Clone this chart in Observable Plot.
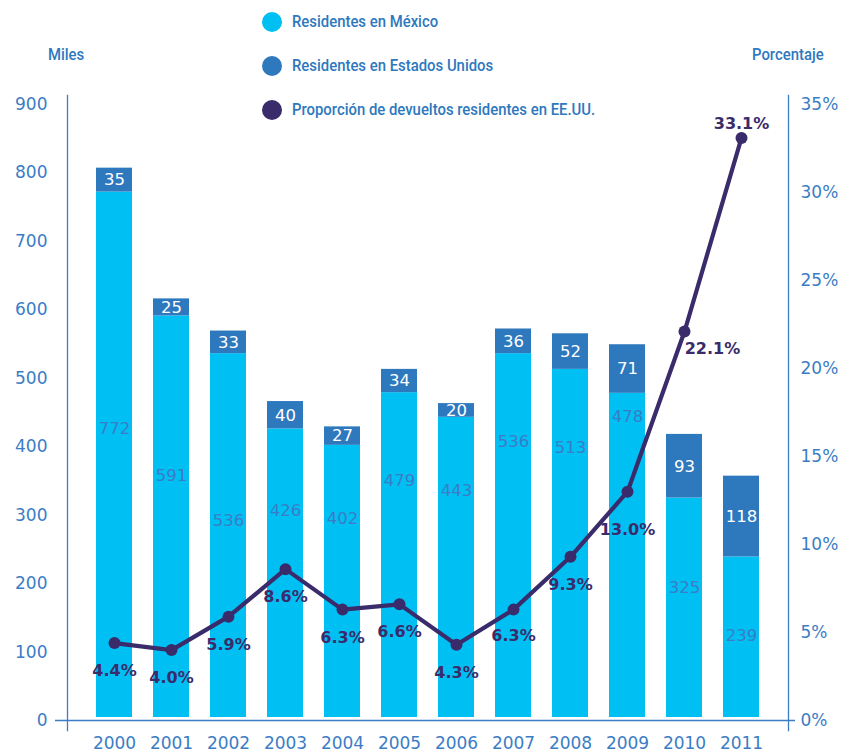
<!DOCTYPE html>
<html>
<head>
<meta charset="utf-8">
<script src="https://cdn.jsdelivr.net/npm/d3@7"></script>
<script src="https://cdn.jsdelivr.net/npm/@observablehq/plot@0.6"></script>
<style>
  html, body { margin: 0; padding: 0; background: #fff; }
  #wrap { position: relative; width: 847px; height: 755px; }
  .lg { position: absolute; font-family: Roboto, "Liberation Sans", sans-serif; font-weight: 500; font-size: 16px; color: #2E78BE; white-space: nowrap; line-height: 1; transform: scaleX(0.93); transform-origin: 0 50%; }
  .sw { position: absolute; width: 20px; height: 20px; border-radius: 50%; }
</style>
</head>
<body>
<div id="wrap"></div>
<script>
// ---- data ----
const years = ["2000","2001","2002","2003","2004","2005","2006","2007","2008","2009","2010","2011"];
const mexico = [772, 591, 536, 426, 402, 479, 443, 536, 513, 478, 325, 239];
const usa    = [35, 25, 33, 40, 27, 34, 20, 36, 52, 71, 93, 118];
const pct    = [4.4, 4.0, 5.9, 8.6, 6.3, 6.6, 4.3, 6.3, 9.3, 13.0, 22.1, 33.1];
const leftTicks = [0, 100, 200, 300, 400, 500, 600, 700, 800, 900];
const pctTicks  = [0, 5, 10, 15, 20, 25, 30, 35];
const legendLabels = ["Residentes en México", "Residentes en Estados Unidos", "Proporción de devueltos residentes en EE.UU."];

// ---- layout (label placement, not data) ----
const mxLabelAt = [427, 358, 292, 307, 295, 351, 336, 408, 399, 444, 194, 124];
const pctDx = [0, 0, 0, 0, 0, 0, 0, 0, 0, 0, 28, 0];
const pctDy = [28, 28, 28, 28, 28, 28, 28, 26, 28, 38, 17, -14];

const C_MX = "#00C0F3", C_US = "#2E78BE", C_LINE = "#3A2B6B", C_AX = "#3B7DC5";
const PMAX = 35, YMAX = 900;
const toY = p => p * YMAX / PMAX;
const idx = years.map((_, i) => i);

const chart = Plot.plot({
  width: 847,
  height: 755,
  marginLeft: 67,
  marginRight: 59,
  marginTop: 104,
  marginBottom: 35,
  style: { fontFamily: "'DejaVu Sans', sans-serif", fontSize: "17px", color: C_AX, background: "transparent" },
  x: { domain: years, type: "band", paddingInner: 0.37, paddingOuter: 0.49, label: null },
  y: { domain: [0, YMAX], label: null },
  marks: [
    Plot.barY(idx, { x: i => years[i], y1: 0, y2: i => mexico[i], fill: C_MX, insetBottom: 3 }),
    Plot.barY(idx, { x: i => years[i], y1: i => mexico[i], y2: i => mexico[i] + usa[i], fill: C_US }),
    Plot.text(idx, { x: i => years[i], y: i => mxLabelAt[i], text: i => String(mexico[i]), fill: "#3A7CC6", fontSize: 16.5 }),
    Plot.text(idx, { x: i => years[i], y: i => mexico[i] + usa[i] / 2, text: i => String(usa[i]), fill: "#ffffff", fontSize: 16.5 }),
    Plot.frame({ anchor: "left", stroke: C_AX, strokeWidth: 1.3, insetTop: -9, insetBottom: -10 }),
    Plot.frame({ anchor: "right", stroke: C_AX, strokeWidth: 1.3, insetTop: -9, insetBottom: -10 }),
    Plot.ruleY([0], { stroke: C_AX, strokeWidth: 1.6, insetLeft: -12, insetRight: -7 }),
    Plot.axisY(leftTicks, { anchor: "left", tickSize: 0, tickPadding: 20, label: null }),
    Plot.axisY(pctTicks.map(toY), { anchor: "right", tickSize: 0, tickPadding: 12, label: null,
      tickFormat: d => Math.round(d * PMAX / YMAX) + "%" }),
    Plot.axisX({ tickSize: 0, tickPadding: 16, label: null }),
    Plot.line(idx, { x: i => years[i], y: i => toY(pct[i]), stroke: C_LINE, strokeWidth: 4.2 }),
    Plot.dot(idx, { x: i => years[i], y: i => toY(pct[i]), r: 6, fill: C_LINE }),
    Plot.text(idx, { x: i => years[i], y: i => toY(pct[i]), text: i => pct[i].toFixed(1) + "%", fill: C_LINE, fontSize: 16, fontWeight: 600, ariaLabel: "pct-labels" })
  ]
});

const wrap = document.getElementById("wrap");
wrap.appendChild(chart);
// per-label offsets for the percentage labels
const pctG = chart.querySelector("g[aria-label='pct-labels']") || [...chart.querySelectorAll("g[aria-label='text']")].pop();
pctG.querySelectorAll("text").forEach((t, i) => {
  t.setAttribute("dx", pctDx[i]);
  t.setAttribute("dy", pctDy[i]);
});
chart.style.position = "absolute";
chart.style.left = "0px";
chart.style.top = "0px";

// legend + axis titles
const legendColors = [C_MX, C_US, C_LINE];
legendLabels.forEach((lab, i) => {
  const sw = document.createElement("div");
  sw.className = "sw";
  sw.style.left = "262px";
  sw.style.top = (12 + i * 44) + "px";
  sw.style.background = legendColors[i];
  wrap.appendChild(sw);
  const t = document.createElement("div");
  t.className = "lg";
  t.style.left = "292px";
  t.style.top = (14 + i * 44) + "px";
  t.textContent = lab;
  wrap.appendChild(t);
});
const miles = document.createElement("div");
miles.className = "lg";
miles.style.left = "48px"; miles.style.top = "47px";
miles.textContent = "Miles";
wrap.appendChild(miles);
const por = document.createElement("div");
por.className = "lg";
por.style.left = "752px"; por.style.top = "47px";
por.textContent = "Porcentaje";
wrap.appendChild(por);
</script>
</body>
</html>
